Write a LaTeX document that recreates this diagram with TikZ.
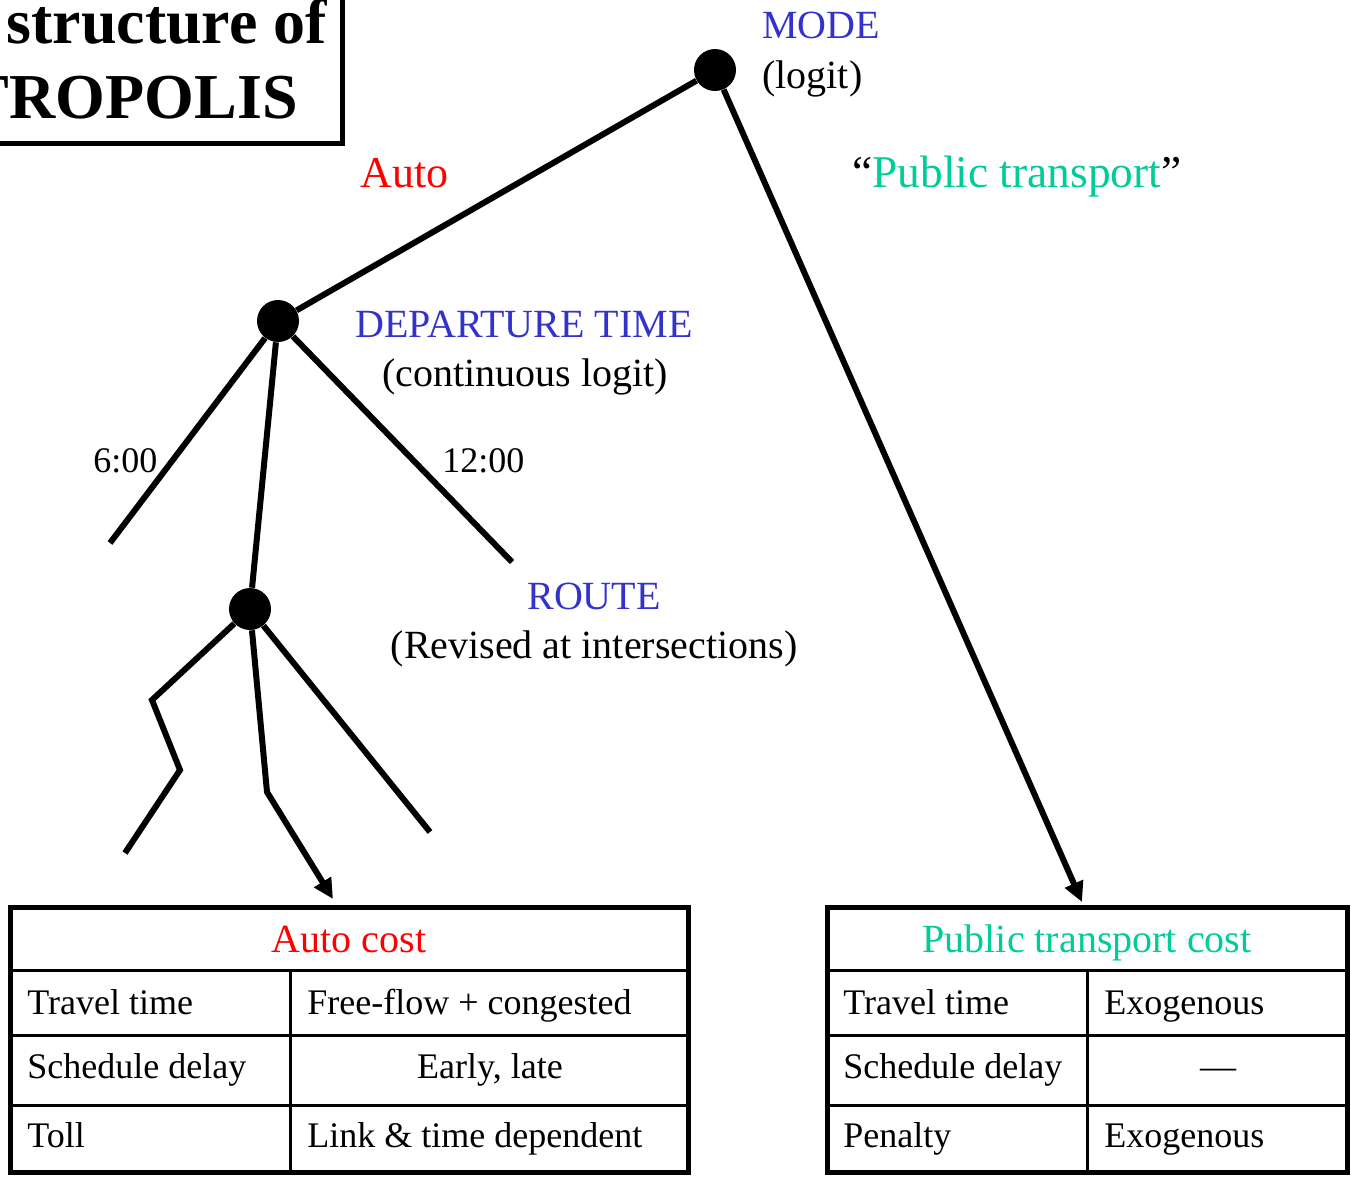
\documentclass[tikz,border=0pt]{standalone}
\usepackage{fontspec}
\setmainfont{Liberation Serif}
\usetikzlibrary{arrows.meta}

\definecolor{choiceblue}{RGB}{51,51,204}
\definecolor{autored}{RGB}{255,0,0}
\definecolor{ptgreen}{RGB}{0,204,153}

\tikzset{
  choice/.style={circle,fill=black,inner sep=0pt,minimum size=21pt},
  branch/.style={line width=3pt},
  lbl/.style={inner sep=0pt,font=\fontsize{20}{24}\selectfont},
  modelbl/.style={inner sep=0pt,font=\fontsize{22}{26}\selectfont},
  cell/.style={inner sep=0pt,anchor=base west,font=\fontsize{18}{22}\selectfont},
  outerline/.style={line width=2.5pt},
  innerline/.style={line width=1.5pt},
}

\begin{document}
\begin{tikzpicture}[x=0.5pt,y=-0.5pt,>={Triangle[length=10pt,width=9.5pt]}]
  \useasboundingbox (0,0) rectangle (1351,1180);

  % title box, cut by the page edge
  \draw[outerline] (-20,-20) rectangle (342,143);
  \node[anchor=base west,inner sep=0pt,font=\fontsize{32}{38}\selectfont\bfseries] (title1) at (6,43) {structure of};
  \node[anchor=base east,inner sep=0pt,font=\fontsize{32}{38}\selectfont\bfseries] (title2) at (298,118) {TROPOLIS};

  % choice levels
  \node[choice] (mode) at (715,70) {};
  \node[choice] (dep) at (278,321) {};
  \node[choice] (route) at (250,609) {};

  \node[lbl,anchor=base west,text=choiceblue] (modelbl) at (762,38) {MODE};
  \node[lbl,anchor=base west] (modesub) at (762,88) {(logit)};
  \node[modelbl,anchor=base west,text=autored] (autolbl) at (360,187) {Auto};
  \node[modelbl,anchor=base west,font=\fontsize{22.7}{27}\selectfont] (ptlbl) at (852,187) {``\textcolor{ptgreen}{Public transport}''};
  \node[lbl,anchor=base,text=choiceblue] (deplbl) at (524,337) {DEPARTURE TIME};
  \node[lbl,anchor=base] (depsub) at (525,386) {(continuous logit)};
  \node[cell] (t6) at (93,472) {6:00};
  \node[cell] (t12) at (442,472) {12:00};
  \node[lbl,anchor=base,text=choiceblue] (routelbl) at (594,609) {ROUTE};
  \node[lbl,anchor=base] (routesub) at (594,658) {(Revised at intersections)};

  % free ends and bends
  \coordinate (dep6) at (110,543);
  \coordinate (dep12) at (512,562);
  \coordinate (ptin) at (1082,902);
  \coordinate (ra1) at (152,700);
  \coordinate (ra2) at (180,770);
  \coordinate (ra3) at (125,853);
  \coordinate (rb1) at (267,792);
  \coordinate (autoin) at (333,899);
  \coordinate (rc1) at (430,832);

  \draw[branch] (mode) -- (dep);
  \draw[branch,->] (mode) -- (ptin);
  \draw[branch] (dep) -- (dep6);
  \draw[branch] (dep) -- (route);
  \draw[branch] (dep) -- (dep12);
  \draw[branch] (route) -- (ra1) -- (ra2) -- (ra3);
  \draw[branch,->] (route) -- (rb1) -- (autoin);
  \draw[branch] (route) -- (rc1);

  % auto cost table
  \draw[innerline] (10,970) -- (688,970) (10,1035) -- (688,1035) (10,1105) -- (688,1105)
    (290,970) -- (290,1172);
  \draw[outerline] (10,907) rectangle (688,1172);
  \node[lbl,anchor=base,text=autored] (autohead) at (349,952) {Auto cost};
  \node[cell] (a11) at (27,1014) {Travel time};
  \node[cell] (a12) at (307,1014) {Free-flow + congested};
  \node[cell] (a21) at (27,1078) {Schedule delay};
  \node[cell,anchor=base] (a22) at (490,1078) {Early, late};
  \node[cell] (a31) at (27,1147) {Toll};
  \node[cell] (a32) at (307,1147) {Link \& time dependent};

  % public transport cost table
  \draw[innerline] (827,970) -- (1347,970) (827,1035) -- (1347,1035) (827,1105) -- (1347,1105)
    (1087,970) -- (1087,1172);
  \draw[outerline] (827,907) rectangle (1347,1172);
  \node[lbl,anchor=base,text=ptgreen] (pthead) at (1087,952) {Public transport cost};
  \node[cell] (p11) at (843,1014) {Travel time};
  \node[cell] (p12) at (1104,1014) {Exogenous};
  \node[cell] (p21) at (843,1078) {Schedule delay};
  \node[cell,anchor=base] (p22) at (1218,1078) {---};
  \node[cell] (p31) at (843,1147) {Penalty};
  \node[cell] (p32) at (1104,1147) {Exogenous};
\end{tikzpicture}
\end{document}
